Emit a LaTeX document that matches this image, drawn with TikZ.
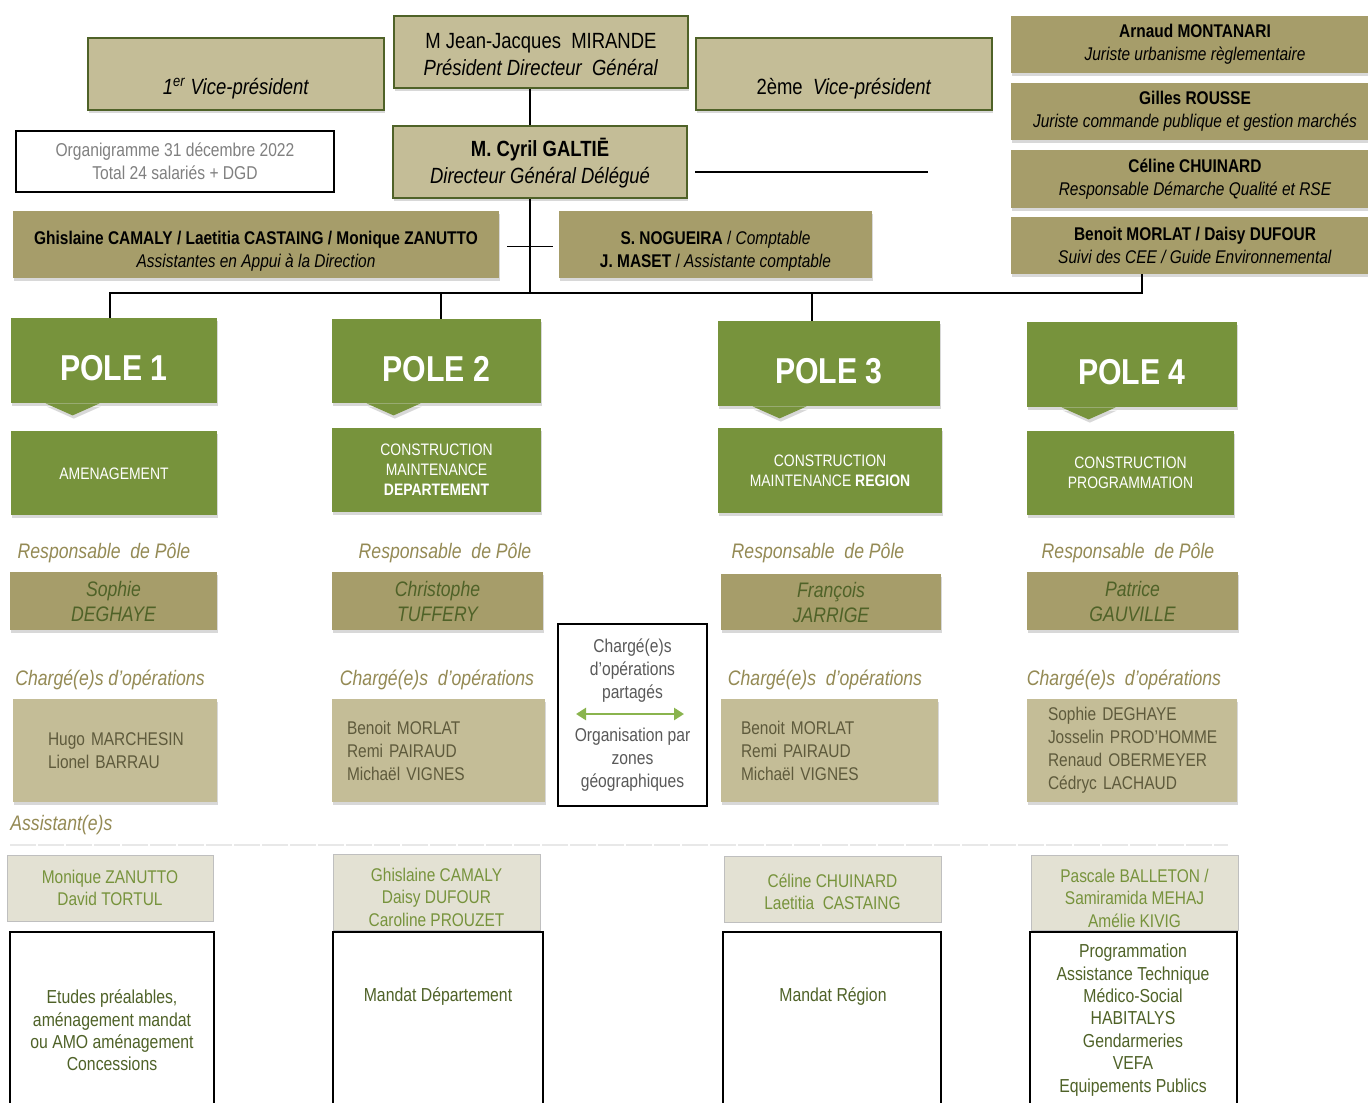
\documentclass[tikz,border=0pt]{standalone}
\usepackage{fontspec}
\setmainfont{Liberation Sans}[FakeStretch=0.84]
\usetikzlibrary{shadows,arrows.meta}

\definecolor{tanlight}{HTML}{C4BD97}
\definecolor{tandark}{HTML}{A69D6A}
\definecolor{edgegreen}{HTML}{4F6228}
\definecolor{polegreen}{HTML}{77933C}
\definecolor{asstfill}{HTML}{E3E1D3}
\definecolor{arrowgreen}{HTML}{8AB44E}
\definecolor{olivetext}{HTML}{948A54}
\definecolor{opstext}{HTML}{5E5A3C}
\definecolor{infotext}{HTML}{808080}

% extra height on a first line, to push the text down
\newcommand{\padtop}[1]{\rule{0pt}{#1}}

\tikzset{
  shade box/.style={drop shadow={shadow xshift=.6pt, shadow yshift=-1.6pt, opacity=.3}},
  headbox/.style={shade box, draw=edgegreen, line width=1pt, fill=tanlight, align=center, inner sep=0pt,
    font=\fontsize{11}{13.5}\selectfont},
  staffbox/.style={shade box, fill=tandark, align=center, inner sep=0pt, font=\fontsize{9.2}{11.5}\selectfont},
  polebox/.style={shade box, fill=polegreen, text=white, inner sep=0pt, text height=20pt, text depth=0pt,
    font=\bfseries\fontsize{18}{22}\selectfont},
  polefield/.style={shade box, fill=polegreen, text=white, align=center, inner sep=0pt, font=\fontsize{8.3}{10}\selectfont},
  polecaption/.style={text=olivetext, inner sep=0pt, font=\itshape\fontsize{10.5}{12}\selectfont},
  respbox/.style={shade box, fill=tandark, text=edgegreen, align=center, inner sep=0pt, font=\itshape\fontsize{10.5}{12.5}\selectfont},
  opsbox/.style={shade box, fill=tanlight, text=opstext, align=left, inner ysep=0pt, font=\fontsize{9.2}{11.5}\selectfont},
  asstbox/.style={draw=black!25, fill=asstfill, text=polegreen, align=center, inner sep=0pt, font=\fontsize{9.2}{11.4}\selectfont},
  missionbox/.style={draw=black, line width=1.2pt, fill=white, inner sep=0pt},
  missiontext/.style={text=edgegreen, align=center, inner sep=0pt, font=\fontsize{9.4}{11.2}\selectfont},
  link/.style={line width=.9pt},
}

\begin{document}
\begin{tikzpicture}[x=0.5pt, y=-0.5pt]
  \path[use as bounding box, fill=white] (0,0) rectangle (1368,1102);

  % direction
  \node[headbox, minimum width=148pt, minimum height=36pt] (vp1) at (236,74) {\strut\\\textit{1\textsuperscript{er} Vice-président}};
  \node[headbox, minimum width=147pt, minimum height=36pt] (pdg) at (541,52) {\padtop{10pt}M Jean-Jacques\ \ MIRANDE\\\textit{Président Directeur\ \ Général}};
  \node[headbox, minimum width=148pt, minimum height=36pt] (vp2) at (844,74) {\strut\\2ème\ \ \textit{Vice-président}};
  \node[draw=black, line width=1pt, fill=white, text=infotext, align=center, inner sep=0pt, minimum width=159pt, minimum height=30.5pt,
    font=\fontsize{9.3}{11.5}\selectfont] (info) at (175,161.5) {Organigramme 31 décembre 2022\\Total 24 salariés + DGD};
  \node[headbox, minimum width=147pt, minimum height=36pt] (dgd) at (540,162) {\padtop{10.5pt}\textbf{M. Cyril GALTIĒ}\\\textit{Directeur Général Délégué}};

  \node[staffbox, minimum width=243pt, minimum height=33.5pt] (assist) at (256,244.5)
    {\padtop{13.5pt}\textbf{Ghislaine CAMALY / Laetitia CASTAING / Monique ZANUTTO}\\\textit{Assistantes en Appui à la Direction}};
  \node[staffbox, minimum width=156.5pt, minimum height=33.5pt] (compta) at (715.5,244.5)
    {\padtop{13.5pt}\textbf{S. NOGUEIRA} / \textit{Comptable}\\\textbf{J. MASET} / \textit{Assistante comptable}};

  \node[staffbox, minimum width=184pt, minimum height=28.5pt] (arnaud) at (1195,44.5) {\textbf{Arnaud MONTANARI}\\\textit{Juriste urbanisme règlementaire}};
  \node[staffbox, minimum width=184pt, minimum height=28.5pt] (gilles) at (1195,111.5) {\textbf{Gilles ROUSSE}\\\textit{Juriste commande publique et gestion marchés}};
  \node[staffbox, minimum width=184pt, minimum height=29pt] (celine) at (1195,179) {\textbf{Céline CHUINARD}\\\textit{Responsable Démarche Qualité et RSE}};
  \node[staffbox, minimum width=184pt, minimum height=28.5pt] (benoit) at (1195,245.5) {\textbf{Benoit MORLAT / Daisy DUFOUR}\\\textit{Suivi des CEE / Guide Environnemental}};

  % poles
  \node[polebox, minimum width=103pt, minimum height=42.5pt] (pole1) at (114,360.5) {POLE 1};
  \node[polebox, minimum width=104.5pt, minimum height=42pt] (pole2) at (436.5,361) {POLE 2};
  \node[polebox, minimum width=111pt, minimum height=42.5pt] (pole3) at (829,363.5) {POLE 3};
  \node[polebox, minimum width=105pt, minimum height=42.5pt] (pole4) at (1132,364.5) {POLE 4};
  \foreach \p in {pole1,pole2,pole3,pole4}
    \fill[polegreen, shade box] ([xshift=17.5pt]\p.south west) -- ([xshift=44.5pt]\p.south west)
      -- ([xshift=31pt,yshift=-6pt]\p.south west) -- cycle;

  \node[polefield, minimum width=103pt, minimum height=42pt] (field1) at (114,473) {\padtop{7pt}AMENAGEMENT};
  \node[polefield, minimum width=104.5pt, minimum height=42pt] (field2) at (436.5,470) {CONSTRUCTION\\MAINTENANCE\\\textbf{DEPARTEMENT}};
  \node[polefield, minimum width=112pt, minimum height=42.5pt] (field3) at (830,470.5) {CONSTRUCTION\\MAINTENANCE \textbf{REGION}};
  \node[polefield, minimum width=103.5pt, minimum height=42pt] (field4) at (1130.5,473) {CONSTRUCTION\\PROGRAMMATION};

  \node[polecaption] (rp1) at (104,553) {Responsable\ \ de Pôle};
  \node[polecaption] (rp2) at (445,553) {Responsable\ \ de Pôle};
  \node[polecaption] (rp3) at (818,553) {Responsable\ \ de Pôle};
  \node[polecaption] (rp4) at (1128,553) {Responsable\ \ de Pôle};

  \node[respbox, minimum width=103.5pt, minimum height=29pt] (resp1) at (113.5,601) {Sophie\\DEGHAYE};
  \node[respbox, minimum width=105.5pt, minimum height=29pt] (resp2) at (437.5,601) {Christophe\\TUFFERY};
  \node[respbox, minimum width=110pt, minimum height=28pt] (resp3) at (831,602) {François\\JARRIGE};
  \node[respbox, minimum width=105.5pt, minimum height=29pt] (resp4) at (1132.5,601) {Patrice\\GAUVILLE};

  \node[polecaption] (co1) at (110,680) {Chargé(e)s d’opérations};
  \node[polecaption] (co2) at (437,680) {Chargé(e)s\ \ d’opérations};
  \node[polecaption] (co3) at (825,680) {Chargé(e)s\ \ d’opérations};
  \node[polecaption] (co4) at (1124,680) {Chargé(e)s\ \ d’opérations};

  \node[opsbox, inner xsep=17.5pt, text width=67pt, minimum height=51.5pt] (ops1) at (115,750.5)
    {\mbox{Hugo MARCHESIN}\\\mbox{Lionel BARRAU}};
  \node[opsbox, inner xsep=7.5pt, text width=91.5pt, minimum height=51.5pt] (ops2) at (438.5,750.5)
    {\mbox{Benoit MORLAT}\\\mbox{Remi PAIRAUD}\\\mbox{Michaël VIGNES}};
  \node[opsbox, inner xsep=10pt, text width=88.5pt, minimum height=51.5pt] (ops3) at (829.5,750.5)
    {\mbox{Benoit MORLAT}\\\mbox{Remi PAIRAUD}\\\mbox{Michaël VIGNES}};
  \node[opsbox, inner xsep=10.5pt, text width=84pt, minimum height=51.5pt] (ops4) at (1132,750.5)
    {\mbox{Sophie DEGHAYE}\\\mbox{Josselin PROD’HOMME}\\\mbox{Renaud OBERMEYER}\\\mbox{Cédryc LACHAUD}};

  \node[draw=black, line width=1pt, fill=white, text=black!65, align=center, inner sep=0pt, minimum width=74.5pt, minimum height=91pt,
    font=\fontsize{9.3}{11.4}\selectfont] (shared) at (632.5,715)
    {Chargé(e)s\\d’opérations\\partagés\\[10.5pt]Organisation par\\zones\\géographiques};
  \draw[line width=1.4pt, arrowgreen, {Triangle[length=5pt,width=6pt]}-{Triangle[length=5pt,width=6pt]}]
    ([xshift=9.5pt,yshift=.5pt]shared.west) -- ([xshift=-12pt,yshift=.5pt]shared.east);

  % assistants
  \node[polecaption, anchor=west] (assttitle) at (10,825) {Assistant(e)s};
  \coordinate (sepL) at (10,845);
  \coordinate (sepR) at (1228,845);
  \draw[black!9, line width=1pt, dash pattern=on 13pt off 1pt] (sepL) -- (sepR);

  \node[missionbox, minimum width=102pt, minimum height=99pt] (miss1) at (112,1031) {};
  \node[missionbox, minimum width=105pt, minimum height=99pt] (miss2) at (438,1031) {};
  \node[missionbox, minimum width=109pt, minimum height=99pt] (miss3) at (832,1031) {};
  \node[missionbox, minimum width=103.5pt, minimum height=99pt] (miss4) at (1133.5,1031) {};

  \node[asstbox, minimum width=103pt, minimum height=33pt] (asst1) at (110,888) {Monique ZANUTTO\\David TORTUL};
  \node[asstbox, minimum width=103.5pt, minimum height=38pt] (asst2) at (436.5,892) {\padtop{12pt}Ghislaine CAMALY\\Daisy DUFOUR\\Caroline PROUZET};
  \node[asstbox, minimum width=108.5pt, minimum height=33pt] (asst3) at (832.5,889) {\padtop{9.5pt}Céline CHUINARD\\Laetitia\ \ CASTAING};
  \node[asstbox, minimum width=103.5pt, minimum height=37.5pt] (asst4) at (1134.5,892.5) {\padtop{12.5pt}Pascale BALLETON /\\Samiramida MEHAJ\\Amélie KIVIG};

  \node[missiontext] (task1) at (112,1030.5) {Etudes préalables,\\aménagement mandat\\ou AMO aménagement\\Concessions};
  \node[missiontext] (task2) at (438,997) {Mandat Département};
  \node[missiontext] (task3) at (833,997) {Mandat Région};
  \node[missiontext] (task4) at (1133,1020) {Programmation\\Assistance Technique\\Médico-Social\\HABITALYS\\Gendarmeries\\VEFA\\Equipements Publics};

  % links
  \coordinate (hub) at (530,293);
  \coordinate (busL) at (110,293);
  \coordinate (busR) at (1142,293);
  \coordinate (sideL) at (695,172);
  \coordinate (sideR) at (928,172);
  \draw[link] ([xshift=-5.5pt]pdg.south) -- ([xshift=-5pt]dgd.north);
  \draw[link] ([xshift=-5pt]dgd.south) -- (hub);
  \draw[link] ([xshift=4pt,yshift=-1pt]assist.east) -- ([xshift=-3pt,yshift=-1pt]compta.west);
  \draw[link] (sideL) -- (sideR);
  \draw[link] (busR |- benoit.south) -- (busR) -- (busL) -- (busL |- pole1.north);
  \draw[link] ([xshift=2.25pt]pole2.north |- hub) -- ([xshift=2.25pt]pole2.north);
  \draw[link] ([xshift=-8.5pt]pole3.north |- hub) -- ([xshift=-8.5pt]pole3.north);
\end{tikzpicture}
\end{document}
